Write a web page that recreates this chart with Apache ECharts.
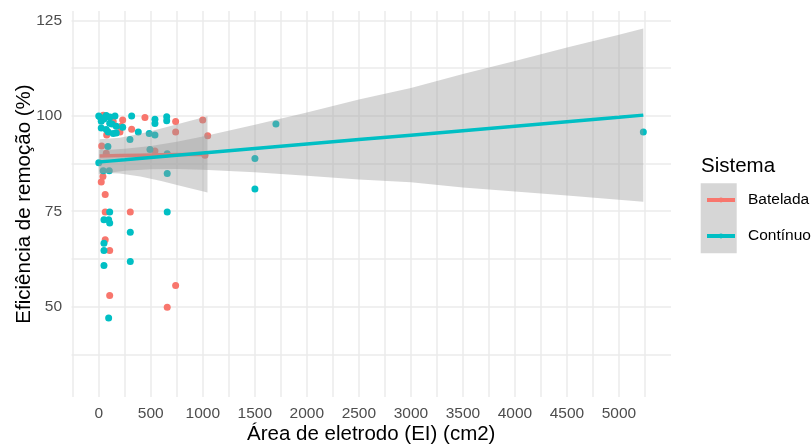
<!DOCTYPE html>
<html><head><meta charset="utf-8">
<script src="https://cdn.jsdelivr.net/npm/echarts@6/dist/echarts.min.js"></script>
<style>html,body{margin:0;padding:0;background:#fff}#c{width:811px;height:445px}</style>
</head><body><div id="c"></div>
<script>
// ---- data ----
const batX = [43, 444, 739, 999, 230, 316, 739, 1047, 139, 204, 76, 28, 540, 1021, 24, 62, 62, 303, 62, 105, 105, 739, 658, 216, 40, 72, 127];
const batY = [100.2, 99.6, 98.5, 98.9, 98.9, 96.5, 95.8, 94.8, 98.5, 95.8, 95.0, 92.1, 90.8, 89.7, 82.7, 79.4, 74.8, 74.8, 67.5, 64.7, 52.9, 55.5, 49.8, 97.3, 84.1, 90.2, 98.6];
const conX = [0, 76, 156, 316, 540, 540, 653, 653, 230, 380, 485, 540, 300, 24, 105, 168, 24, 168, 88, 492, 658, 101, 43, 658, 0, 105, 50, 95, 105, 303, 50, 50, 303, 50, 95, 658, 1501, 1501, 1703, 5234, 72, 16, 50, 108, 127, 139, 91, 72];
const conY = [100, 99.8, 100, 100, 99.1, 98.0, 99.8, 98.7, 97.0, 95.8, 95.4, 95.0, 93.8, 98.6, 98.1, 97.3, 96.8, 95.5, 92.0, 91.2, 90.1, 85.6, 85.6, 84.9, 87.7, 74.8, 72.8, 72.8, 71.9, 69.5, 66.6, 64.7, 61.8, 60.8, 47.0, 74.8, 88.8, 80.8, 97.9, 95.8, 100.1, 99.6, 99.2, 99.7, 97.9, 95.4, 95.8, 96.4];

const batFitX = [8, 200, 400, 600, 800, 1045];
const batFit  = [89.5, 89.6, 89.7, 89.8, 89.85, 89.9];
const batLo   = [85.1, 84.9, 84.1, 82.9, 81.55, 79.9];
const batHi   = [93.9, 94.3, 95.3, 96.7, 98.15, 99.9];

const conFitX = [0, 100, 250, 500, 750, 1000, 1500, 2000, 2500, 3000, 3500, 4000, 4500, 5000, 5234];
const conFit  = [87.9, 88.14, 88.49, 89.08, 89.66, 90.25, 91.43, 92.6, 93.78, 94.95, 96.13, 97.3, 98.48, 99.65, 100.2];
const conLo   = [84.7, 85.1, 85.6, 86.0, 86.1, 85.9, 85.2, 84.3, 83.3, 82.6, 81.2, 80.2, 79.1, 78.0, 77.5];
const conHi   = [91.1, 91.1, 91.4, 92.1, 93.2, 94.6, 97.7, 100.9, 104.3, 107.3, 111.0, 114.4, 117.9, 121.3, 122.9];

const xLabels = [0, 500, 1000, 1500, 2000, 2500, 3000, 3500, 4000, 4500, 5000];
const xGrid = [-250, 0, 250, 500, 750, 1000, 1250, 1500, 1750, 2000, 2250, 2500, 2750, 3000, 3250, 3500, 3750, 4000, 4250, 4500, 4750, 5000, 5250];
const yLabels = [50, 75, 100, 125];
const yGrid = [37.5, 50, 62.5, 75, 87.5, 100, 112.5, 125];

const PINK = '#F8766D', CYAN = '#00BFC4';
const FONT = '"Liberation Sans", Arial, sans-serif';

function pairs(xs, ys) { return xs.map((x, i) => [x, ys[i]]); }
function ribbon(xs, lo, hi, z) {
  const data = xs.map((x, i) => [x, lo[i], hi[i]]);
  return {
    type: 'custom', z: z, silent: true, data: data,
    encode: { x: 0, y: [1, 2] },
    renderItem: function (params, api) {
      if (params.dataIndex !== 0) return null;
      const pts = [];
      for (let i = 0; i < data.length; i++) pts.push(api.coord([data[i][0], data[i][2]]));
      for (let i = data.length - 1; i >= 0; i--) pts.push(api.coord([data[i][0], data[i][1]]));
      return { type: 'polygon', shape: { points: pts }, style: { fill: 'rgba(153,153,153,0.4)' } };
    }
  };
}

const chart = echarts.init(document.getElementById('c'));
const legendCommon = {
  left: 705, orient: 'vertical', itemWidth: 28, itemHeight: 6, padding: 0, selectedMode: false,
  lineStyle: { width: 4 },
  textStyle: { fontSize: 15.5, color: '#000', fontFamily: FONT, padding: [0, 0, 0, 8] }
};
chart.setOption({
  animation: false,
  textStyle: { fontFamily: FONT },
  grid: { left: 71.5, right: 140, top: 11, bottom: 48, outerBoundsMode: 'none', containLabel: false },
  xAxis: {
    type: 'value', min: -262, max: 5500,
    axisLine: { show: false },
    axisTick: { show: false, customValues: xGrid },
    axisLabel: { customValues: xLabels, color: '#4d4d4d', fontSize: 15.5, margin: 9, fontFamily: FONT, formatter: v => String(v) },
    splitLine: { show: true, lineStyle: { color: '#ebebeb', width: 1.5 } },
    name: 'Área de eletrodo (EI) (cm2)', nameLocation: 'middle', nameGap: 26.5, nameMoveOverlap: false,
    nameTextStyle: { color: '#000', fontSize: 20.5, fontFamily: FONT }
  },
  yAxis: {
    type: 'value', min: 26.3, max: 127.5,
    axisLine: { show: false },
    axisTick: { show: false, customValues: yGrid },
    axisLabel: { customValues: yLabels, color: '#4d4d4d', fontSize: 15.5, margin: 9.5, fontFamily: FONT, formatter: v => String(v) },
    splitLine: { show: true, lineStyle: { color: '#ebebeb', width: 1.5 } },
    name: 'Eficiência de remoção (%)', nameLocation: 'middle', nameGap: 37, nameRotate: 90, nameMoveOverlap: false,
    nameTextStyle: { color: '#000', fontSize: 20.5, fontFamily: FONT }
  },
  legend: [
    Object.assign({ data: ['Batelada'], top: 192 }, legendCommon),
    Object.assign({ data: ['Contínuo'], top: 228 }, legendCommon)
  ],
  graphic: [
    { type: 'rect', z: 0, shape: { x: 700.7, y: 183.3, width: 36, height: 70 }, style: { fill: '#d6d6d6' } },
    { type: 'text', z: 1, x: 701, y: 166.5, style: { text: 'Sistema', fontSize: 20.5, fontFamily: FONT, fill: '#000', textVerticalAlign: 'middle' } }
  ],
  series: [
    { type: 'line', name: 'Batelada', color: PINK, z: 4, data: pairs(batFitX, batFit), showSymbol: false, symbol: 'circle', lineStyle: { width: 3.5, color: PINK } },
    { type: 'line', name: 'Contínuo', color: CYAN, z: 6, data: pairs(conFitX, conFit), showSymbol: false, symbol: 'circle', lineStyle: { width: 3.5, color: CYAN } },
    { type: 'scatter', name: 'Batelada', z: 2, symbolSize: 7, itemStyle: { color: PINK, opacity: 1 }, data: pairs(batX, batY) },
    { type: 'scatter', name: 'Contínuo', z: 2, symbolSize: 7, itemStyle: { color: CYAN, opacity: 1 }, data: pairs(conX, conY) },
    ribbon(batFitX, batLo, batHi, 3),
    ribbon(conFitX, conLo, conHi, 5)
  ]
});
</script></body></html>
